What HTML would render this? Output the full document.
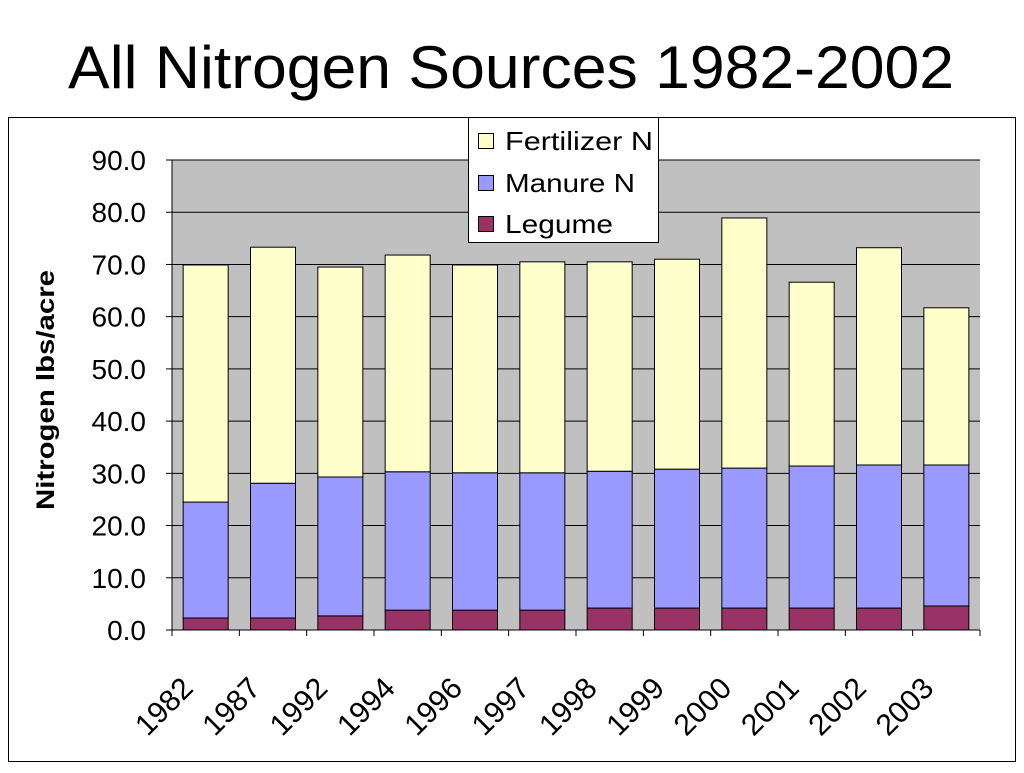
<!DOCTYPE html>
<html><head><meta charset="utf-8"><style>
html,body{margin:0;padding:0;background:#fff;}
body{width:1024px;height:768px;overflow:hidden;font-family:"Liberation Sans",sans-serif;}
</style></head><body>
<svg width="1024" height="768" xmlns="http://www.w3.org/2000/svg" font-family="Liberation Sans, sans-serif">
<text x="68" y="88" font-size="60" textLength="886" lengthAdjust="spacingAndGlyphs">All Nitrogen Sources 1982-2002</text>
<rect x="8.5" y="117.5" width="1007" height="644" fill="#fff" stroke="#000" stroke-width="1"/>
<rect x="172" y="160" width="808" height="470" fill="#C0C0C0"/>
<g id="grid"></g><g id="bars"></g><g id="axes"></g>
<text transform="translate(54,390) rotate(-90)" font-size="25" font-weight="bold" text-anchor="middle" textLength="240" lengthAdjust="spacingAndGlyphs">Nitrogen lbs/acre</text>
<g>
<rect x="468.5" y="117.5" width="190" height="125" fill="#fff" stroke="#000"/>
<rect x="478.5" y="133.5" width="15" height="15" fill="#FFFFCC" stroke="#000"/>
<text x="505" y="150" font-size="26" textLength="148" lengthAdjust="spacingAndGlyphs">Fertilizer N</text>
<rect x="478.5" y="175.5" width="15" height="15" fill="#9999FF" stroke="#000"/>
<text x="505" y="192" font-size="26" textLength="130" lengthAdjust="spacingAndGlyphs">Manure N</text>
<rect x="478.5" y="216.5" width="15" height="15" fill="#993366" stroke="#000"/>
<text x="505" y="233" font-size="26" textLength="108" lengthAdjust="spacingAndGlyphs">Legume</text>
</g>
</svg>
<script>
const categories=["1982","1987","1992","1994","1996","1997","1998","1999","2000","2001","2002","2003"];
const legume=[2.3,2.3,2.7,3.8,3.8,3.8,4.2,4.2,4.2,4.2,4.2,4.6];
const manure=[22.2,25.8,26.6,26.5,26.3,26.3,26.2,26.6,26.8,27.2,27.4,27.0];
const fertilizer=[45.4,45.2,40.2,41.5,39.8,40.4,40.1,40.2,47.9,35.2,41.6,30.1];
const yTicks=[0,10,20,30,40,50,60,70,80,90];
const NS="http://www.w3.org/2000/svg";
const X0=172,X1=980,Y0=630,Y1=160,YMAX=90;
const step=(X1-X0)/categories.length,bw=45;
function y(v){return Y0-(v/YMAX)*(Y0-Y1);}
function xc(i){return X0+step*(i+0.5);}
function mk(tag,attrs,parent){const e=document.createElementNS(NS,tag);for(const k in attrs)e.setAttribute(k,attrs[k]);parent.appendChild(e);return e;}
const grid=document.getElementById('grid'),bars=document.getElementById('bars'),axes=document.getElementById('axes');
yTicks.forEach(t=>{
 const l=mk('line',{x1:X0,x2:X1,y1:y(t),y2:y(t),stroke:'#000','stroke-width':1},grid);
 
 
 mk('line',{x1:X0-6,x2:X0,y1:y(t),y2:y(t),stroke:'#000'},axes);
 const tx=mk('text',{x:X0-26,y:y(t)+10,'font-size':28,'text-anchor':'end'},axes);
 tx.textContent=t.toFixed(1);
 
 
});
mk('line',{x1:X0,x2:X0,y1:Y1,y2:Y0,stroke:'#000'},axes);
mk('line',{x1:X0,x2:X1,y1:Y0,y2:Y0,stroke:'#000'},axes);
for(let i=0;i<=categories.length;i++){mk('line',{x1:X0+step*i,x2:X0+step*i,y1:Y0,y2:Y0+6,stroke:'#000'},axes);}
categories.forEach((c,i)=>{
 const segs=[[legume[i],'#993366','legume'],[manure[i],'#9999FF','manure'],[fertilizer[i],'#FFFFCC','fertilizer']];
 let base=0;
 segs.forEach(s=>{
  const r=mk('rect',{x:xc(i)-bw/2,y:y(base+s[0]),width:bw,height:y(base)-y(base+s[0]),fill:s[1],stroke:'#000','stroke-width':1},bars);
  
  
  base+=s[0];
 });
 const tx=mk('text',{'font-size':30,'text-anchor':'end',transform:`translate(${xc(i)-11},${Y0+60}) rotate(-45)`},axes);
 tx.textContent=c;
 
 
});
</script>
</body></html>
